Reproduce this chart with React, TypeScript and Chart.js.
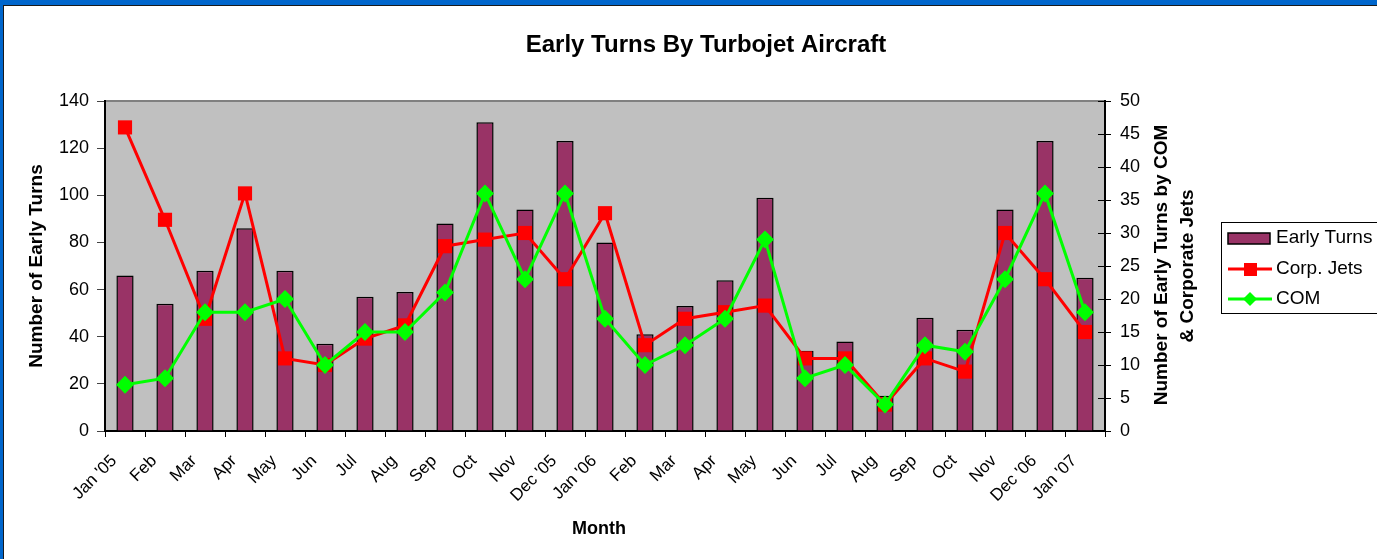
import { useEffect, useRef } from "react";
import { Chart, registerables } from "chart.js";

Chart.register(...registerables);

const months = ["Jan '05", "Feb", "Mar", "Apr", "May", "Jun", "Jul", "Aug", "Sep", "Oct", "Nov", "Dec '05", "Jan '06", "Feb", "Mar", "Apr", "May", "Jun", "Jul", "Aug", "Sep", "Oct", "Nov", "Dec '06", "Jan '07"];
const earlyTurns = [66, 54, 68, 86, 68, 37, 57, 59, 88, 131, 94, 123, 80, 41, 53, 64, 99, 34, 38, 15, 48, 43, 94, 123, 65];
const corpJets = [46, 32, 17, 36, 11, 10, 14, 16, 28, 29, 30, 23, 33, 13, 17, 18, 19, 11, 11, 4, 11, 9, 30, 23, 15];
const com = [7, 8, 18, 18, 20, 10, 15, 15, 21, 36, 23, 36, 17, 10, 13, 17, 29, 8, 10, 4, 13, 12, 23, 36, 18];
const leftTicks = { min: 0, max: 140, step: 20 };
const rightTicks = { min: 0, max: 50, step: 5 };

const FONT = "'Liberation Sans', Arial, Helvetica, sans-serif";
const BAR = "#993366";
const RED = "#ff0000";
const GREEN = "#00ff00";

const decor = {
  id: "decor",
  beforeDraw(chart: any) {
    const { ctx, chartArea: a, width, height } = chart;
    ctx.save();
    ctx.fillStyle = "#ffffff";
    ctx.fillRect(0, 0, width, height);
    ctx.fillStyle = "#c0c0c0";
    ctx.fillRect(a.left, a.top, a.right - a.left, a.bottom - a.top);
    ctx.strokeStyle = "#808080";
    ctx.lineWidth = 2;
    ctx.beginPath();
    ctx.moveTo(a.left, a.top);
    ctx.lineTo(a.right, a.top);
    ctx.stroke();
    ctx.restore();
  },
  afterDraw(chart: any) {
    const { ctx, chartArea: a, scales } = chart;
    ctx.save();
    // inner ticks on right axis
    ctx.strokeStyle = "#000";
    ctx.lineWidth = 1;
    const y1 = scales.y1;
    y1.ticks.forEach((t: any) => {
      const py = Math.round(y1.getPixelForValue(t.value)) + 0.5;
      ctx.beginPath();
      ctx.moveTo(a.right - 7, py);
      ctx.lineTo(a.right, py);
      ctx.stroke();
    });

    ctx.fillStyle = "#000";
    // title
    ctx.font = `bold 24px ${FONT}`;
    ctx.textAlign = "center";
    ctx.textBaseline = "alphabetic";
    ctx.fillText("Early Turns By Turbojet Aircraft", 706, 52);
    // x title
    ctx.font = `bold 18px ${FONT}`;
    ctx.fillText("Month", 599, 534);
    // left title
    ctx.font = `bold 19px ${FONT}`;
    ctx.save();
    ctx.translate(42, 266);
    ctx.rotate(-Math.PI / 2);
    ctx.fillText("Number of Early Turns", 0, 0);
    ctx.restore();
    // right titles
    ctx.save();
    ctx.translate(1167, 265);
    ctx.rotate(-Math.PI / 2);
    ctx.fillText("Number of Early Turns by COM", 0, 0);
    ctx.restore();
    ctx.save();
    ctx.translate(1193, 266);
    ctx.rotate(-Math.PI / 2);
    ctx.fillText("& Corporate Jets", 0, 0);
    ctx.restore();

    // legend
    ctx.fillStyle = "#fff";
    ctx.fillRect(1221, 222, 170, 91);
    ctx.strokeStyle = "#000";
    ctx.lineWidth = 1;
    ctx.strokeRect(1221.5, 222.5, 170, 91);
    ctx.fillStyle = BAR;
    ctx.fillRect(1228, 233, 42, 11);
    ctx.lineWidth = 1.5;
    ctx.strokeRect(1228, 233, 42, 11);
    ctx.lineWidth = 3;
    ctx.strokeStyle = RED;
    ctx.beginPath();
    ctx.moveTo(1228, 269);
    ctx.lineTo(1272, 269);
    ctx.stroke();
    ctx.fillStyle = RED;
    ctx.fillRect(1244, 263, 13, 13);
    ctx.strokeStyle = GREEN;
    ctx.beginPath();
    ctx.moveTo(1228, 299);
    ctx.lineTo(1272, 299);
    ctx.stroke();
    ctx.fillStyle = GREEN;
    ctx.beginPath();
    ctx.moveTo(1250, 292);
    ctx.lineTo(1257, 299);
    ctx.lineTo(1250, 306);
    ctx.lineTo(1243, 299);
    ctx.closePath();
    ctx.fill();
    ctx.fillStyle = "#000";
    ctx.font = `19px ${FONT}`;
    ctx.textAlign = "left";
    ctx.textBaseline = "middle";
    ctx.fillText("Early Turns", 1276, 238);
    ctx.fillText("Corp. Jets", 1276, 269);
    ctx.fillText("COM", 1276, 299);

    // window frame
    ctx.fillStyle = "#0066cc";
    ctx.fillRect(0, 0, chart.width, 5);
    ctx.fillRect(0, 0, 3, chart.height);
    ctx.fillStyle = "#1a1a1a";
    ctx.fillRect(3, 5, chart.width - 3, 1);
    ctx.fillRect(3, 5, 1, chart.height - 5);
    ctx.restore();
  },
};

export default function App() {
  const ref = useRef<HTMLCanvasElement | null>(null);
  useEffect(() => {
    if (!ref.current) return;
    Chart.defaults.font.family = FONT;
    const chart = new Chart(ref.current, {
      type: "bar",
      data: {
        labels: months,
        datasets: [
          {
            type: "line",
            label: "COM",
            data: com,
            yAxisID: "y1",
            borderColor: GREEN,
            backgroundColor: GREEN,
            borderWidth: 3,
            pointStyle: "rectRot",
            pointRadius: 9,
            pointBorderWidth: 0,
            pointBackgroundColor: GREEN,
            tension: 0,
            order: 1,
          },
          {
            type: "line",
            label: "Corp. Jets",
            data: corpJets,
            yAxisID: "y1",
            borderColor: RED,
            backgroundColor: RED,
            borderWidth: 3,
            pointStyle: "rect",
            pointRadius: 10,
            pointBorderWidth: 0,
            pointBackgroundColor: RED,
            tension: 0,
            order: 2,
          },
          {
            type: "bar",
            label: "Early Turns",
            data: earlyTurns,
            yAxisID: "y",
            backgroundColor: BAR,
            borderColor: "#000",
            borderWidth: 1.5,
            barPercentage: 0.43,
            categoryPercentage: 1,
            order: 3,
          },
        ],
      },
      options: {
        responsive: false,
        animation: false,
        layout: { padding: { top: 101, left: 0, right: 0, bottom: 0 } },
        plugins: { legend: { display: false }, title: { display: false }, tooltip: { enabled: false } },
        scales: {
          x: {
            type: "category",
            offset: true,
            grid: { offset: true, drawOnChartArea: false, tickLength: 6, color: "#000", tickWidth: 1 },
            border: { color: "#000", width: 2 },
            ticks: { minRotation: 45, maxRotation: 45, autoSkip: false, color: "#000", font: { size: 17, family: FONT }, padding: 14, labelOffset: -11 },
            afterFit: (s: any) => { s.height = 128; },
          },
          y: {
            position: "left",
            min: leftTicks.min,
            max: leftTicks.max,
            ticks: { stepSize: leftTicks.step, color: "#000", font: { size: 18, family: FONT }, padding: 8 },
            grid: { drawOnChartArea: false, tickLength: 8, color: "#444" },
            border: { color: "#000", width: 2 },
            afterFit: (s: any) => { s.width = 105; },
          },
          y1: {
            position: "right",
            min: rightTicks.min,
            max: rightTicks.max,
            ticks: { stepSize: rightTicks.step, color: "#000", font: { size: 18, family: FONT }, padding: 9 },
            grid: { drawOnChartArea: false, tickLength: 6, color: "#000" },
            border: { color: "#000", width: 2 },
            afterFit: (s: any) => { s.width = 272; },
          },
        },
      },
      plugins: [decor],
    });
    return () => chart.destroy();
  }, []);
  return (
    <div style={{ position: "absolute", left: 0, top: 0, width: 1377, height: 559 }}>
      <canvas ref={ref} width={1377} height={559} style={{ display: "block" }} />
    </div>
  );
}
